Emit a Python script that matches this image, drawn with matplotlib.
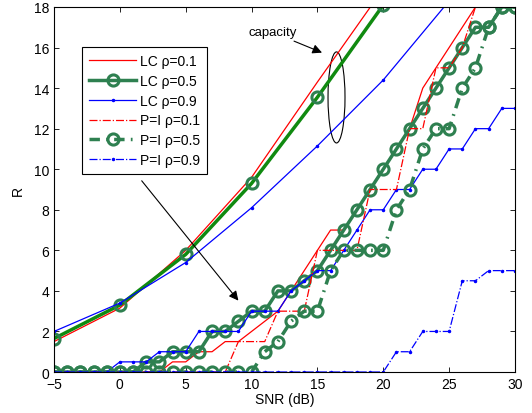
import numpy as np
import matplotlib
matplotlib.use('Agg')
import matplotlib.pyplot as plt
from matplotlib.patches import Ellipse

plt.rcParams['font.family'] = ['Liberation Sans', 'DejaVu Sans']
plt.rcParams['font.size'] = 10

# SNR grid (dB)
snr = np.arange(-5, 31)

# rates
lc_01 = [0, 0, 0, 0, 0, 0, 0, 0, 0,
         0.5, 0.5, 1, 1, 1.5, 1.5, 2, 2.5, 3, 4, 5, 6, 7, 7, 8, 9, 10, 11, 12,
         14, 15, 16, 17, 18, 18, 18, 18]
lc_05 = [0, 0, 0, 0, 0, 0, 0,
         0.5, 0.5, 1, 1, 1, 2, 2, 2.5, 3, 3, 4, 4, 4.5, 5, 6, 7, 8, 9, 10, 11,
         12, 13, 14, 15, 16, 17, 17, 18, 18]
lc_09 = [0, 0, 0, 0, 0,
         0.5, 0.5, 0.5, 1, 1, 1, 2, 2, 2, 2, 3, 3, 3, 4, 4.5, 5, 5, 6, 7, 8, 8,
         9, 9, 10, 10, 11, 11, 12, 12, 13, 13]
pi_01 = [0] * 14 + [1.5, 1.5, 1.5, 3, 3, 3, 6, 6, 6, 6, 9, 9, 9, 12, 12,
                    15, 15, 16, 18, 18, 18, 18]
pi_05 = [0] * 16 + [1, 1.5, 2.5, 3, 3, 5, 6, 6, 6, 6, 8, 9, 11, 12, 12, 14,
                    15, 17, 18, 18]
pi_09 = [0] * 26 + [1, 1, 2, 2, 2, 4.5, 4.5, 5, 5, 5]

# capacity curves, every 5 dB
cap_snr = [-5, 0, 5, 10, 15, 20, 25]
cap_01 = [1.5, 3.15, 6.0, 9.6, 14.3, 18.9, 23.5]
cap_05 = [1.65, 3.3, 5.8, 9.3, 13.55, 18.1, 22.6]
cap_09 = [2.0, 3.4, 5.4, 8.1, 11.15, 14.4, 18.3]

labels = ['LC ρ=0.1', 'LC ρ=0.5', 'LC ρ=0.9', 'P=I ρ=0.1', 'P=I ρ=0.5', 'P=I ρ=0.9']

red = '#ff0000'
blue = '#0000ff'
green = '#2e8050'
cgreen = '#108a10'

fig = plt.figure(figsize=(5.32, 4.14), dpi=100)
ax = fig.add_axes([0.1015, 0.099, 0.8665, 0.8817])

circ = dict(marker='o', ms=8, mfc='none', mec=green, mew=2.2)
gdash = (3, 1.8, 0.5, 1.8)

# capacity
ax.plot(cap_snr, cap_01, color=red, lw=0.9)
ax.plot(cap_snr, cap_05, color=cgreen, lw=2.5)
ax.plot(cap_snr, cap_05, ls='none', **circ)
ax.plot(cap_snr, cap_09, color=blue, lw=0.9, marker='.', ms=3)

# achievable rates
h1, = ax.plot(snr, lc_01, color=red, lw=0.9)
h2, = ax.plot(snr, lc_05, color=green, lw=2.5, **circ)
h3, = ax.plot(snr, lc_09, color=blue, lw=0.9, marker='.', ms=3)
h4, = ax.plot(snr, pi_01, color=red, lw=0.9, ls='-.')
h5, = ax.plot(snr, pi_05, color=green, lw=2.5, ls='-.', dashes=gdash, **circ)
h6, = ax.plot(snr, pi_09, color=blue, lw=0.9, ls='-.', marker='.', ms=3)

ax.set_xlim(-5, 30)
ax.set_ylim(0, 18)
ax.set_xticks(range(-5, 31, 5))
ax.set_yticks(range(0, 19, 2))
ax.tick_params(direction='in', top=True, right=True, length=3.5, width=0.6)
for s in ax.spines.values():
    s.set_linewidth(0.8)
ax.set_xlabel('SNR (dB)', labelpad=1)
ax.set_ylabel('R', labelpad=6)

leg = ax.legend([h1, h2, h3, h4, h5, h6], labels, loc='upper left',
                bbox_to_anchor=(0.0607, 0.8904), borderaxespad=0,
                fancybox=False, edgecolor='k', framealpha=1,
                handlelength=3.4, labelspacing=0.42, numpoints=1,
                handletextpad=0.3, borderpad=0.5)
leg.get_frame().set_linewidth(0.8)

# capacity annotation
ax.add_patch(Ellipse((16.45, 13.54), 1.29, 4.49, fill=False, ec='k', lw=0.8))
ax.annotate('capacity', xy=(15.35, 15.75), xytext=(11.6, 16.75),
            ha='center', va='center', fontsize=9.5,
            arrowprops=dict(arrowstyle='-|>', color='k', lw=0.8,
                            mutation_scale=14, shrinkA=22, shrinkB=0))
ax.annotate('', xy=(9.0, 3.52), xytext=(1.66, 9.43),
            arrowprops=dict(arrowstyle='-|>', color='k', lw=0.8,
                            mutation_scale=14, shrinkA=0, shrinkB=0))

fig.savefig('out.png', dpi=100)
